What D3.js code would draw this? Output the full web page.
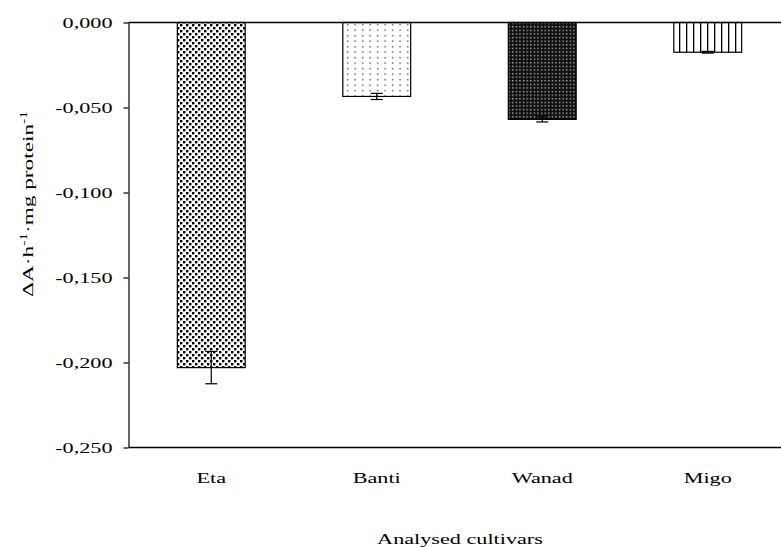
<!DOCTYPE html>
<html><head><meta charset="utf-8">
<script src="https://cdn.jsdelivr.net/npm/d3@7"></script>
<style>body{margin:0;background:#fff}svg{display:block}</style>
</head><body>
<svg id="c" width="781" height="547"></svg>
<script>
const categories = ["Eta", "Banti", "Wanad", "Migo"];
const values = [-0.203, -0.0435, -0.057, -0.0175];
const errors = [0.0095, 0.0018, 0.0015, 0.0005];
const yTicks = [0, -0.05, -0.1, -0.15, -0.2, -0.25];
const patternIds = ["pEta", "pBanti", "pWanad", "pMigo"];
const xTitle = "Analysed cultivars";

const svg = d3.select("#c");
const mLeft = 128.5, mRight = 790.5, mTop = 22.5, mBottom = 447.5;
const SX = 1.48, FS = 15;
const x = d3.scaleBand().domain(categories).range([mLeft, mRight]).paddingInner(0.59).paddingOuter(0.295);
const y = d3.scaleLinear().domain([-0.25, 0]).range([mBottom, mTop]);
const fmt = v => d3.format(".3f")(v).replace(".", ",").replace("−", "-");

const defs = svg.append("defs");
let p = defs.append("pattern").attr("id", "pEta").attr("patternUnits", "userSpaceOnUse").attr("width", 6).attr("height", 6);
p.append("rect").attr("width", 6).attr("height", 6).attr("fill", "#fff");
p.append("rect").attr("x", 0).attr("y", 0).attr("width", 2.4).attr("height", 2.4).attr("fill", "#000");
p.append("rect").attr("x", 3).attr("y", 3).attr("width", 2.4).attr("height", 2.4).attr("fill", "#000");
p = defs.append("pattern").attr("id", "pBanti").attr("patternUnits", "userSpaceOnUse").attr("width", 7.5).attr("height", 5.5);
p.append("rect").attr("width", 7.5).attr("height", 5.5).attr("fill", "#fff");
p.append("rect").attr("x", 2).attr("y", 2).attr("width", 1.3).attr("height", 1.3).attr("fill", "#333");
p = defs.append("pattern").attr("id", "pWanad").attr("patternUnits", "userSpaceOnUse").attr("width", 3.6).attr("height", 3.6);
p.append("rect").attr("width", 3.6).attr("height", 3.6).attr("fill", "#111");
p.append("rect").attr("x", 1).attr("y", 1).attr("width", 1.2).attr("height", 1.2).attr("fill", "#ddd");
p = defs.append("pattern").attr("id", "pMigo").attr("patternUnits", "userSpaceOnUse").attr("width", 7).attr("height", 7);
p.append("rect").attr("width", 7).attr("height", 7).attr("fill", "#fff");
p.append("rect").attr("x", 0).attr("y", 0).attr("width", 1.3).attr("height", 7).attr("fill", "#000");

svg.selectAll("rect.bar").data(categories).join("rect").attr("class", "bar")
  .attr("x", d => x(d)).attr("width", x.bandwidth())
  .attr("y", y(0)).attr("height", (d, i) => y(values[i]) - y(0))
  .attr("fill", (d, i) => `url(#${patternIds[i]})`)
  .attr("stroke", "#000").attr("stroke-width", 1.2);

const eb = svg.selectAll("g.eb").data(categories).join("g").attr("class", "eb")
  .attr("stroke", "#000").attr("stroke-width", 1.2);
eb.append("line").attr("x1", d => x(d) + x.bandwidth() / 2).attr("x2", d => x(d) + x.bandwidth() / 2)
  .attr("y1", (d, i) => y(values[i] + errors[i])).attr("y2", (d, i) => y(values[i] - errors[i]));
[1, -1].forEach(s => {
  eb.append("line").attr("x1", d => x(d) + x.bandwidth() / 2 - 6).attr("x2", d => x(d) + x.bandwidth() / 2 + 6)
    .attr("y1", (d, i) => y(values[i] + s * errors[i])).attr("y2", (d, i) => y(values[i] + s * errors[i]));
});

const yAxis = svg.append("g").attr("transform", `translate(${mLeft},0)`)
  .call(d3.axisLeft(y).tickValues(yTicks).tickSize(5).tickSizeOuter(0).tickFormat(fmt));
yAxis.select(".domain").attr("stroke", "#000").attr("stroke-width", 1.2);
yAxis.selectAll(".tick line").attr("stroke", "#000").attr("stroke-width", 1.2);
yAxis.selectAll(".tick text").attr("font-family", "Liberation Serif").attr("font-size", FS)
  .attr("fill", "#000").attr("dy", "0.35em")
  .attr("transform", `scale(${SX},1)`).attr("text-anchor", "end")
  .attr("x", -16 / SX);

svg.append("line").attr("x1", mLeft).attr("x2", 781).attr("y1", y(0)).attr("y2", y(0)).attr("stroke", "#000").attr("stroke-width", 1.5);
svg.append("line").attr("x1", mLeft).attr("x2", 781).attr("y1", y(-0.25)).attr("y2", y(-0.25)).attr("stroke", "#000").attr("stroke-width", 1.5);

const xAxis = svg.append("g").attr("transform", `translate(0,${mBottom})`)
  .call(d3.axisBottom(x).tickSize(0));
xAxis.select(".domain").remove();
xAxis.selectAll(".tick text").attr("font-family", "Liberation Serif").attr("font-size", FS).attr("fill", "#000")
  .attr("y", 0).attr("dy", 0)
  .attr("transform", `translate(0,35.5) scale(${SX},1)`);

svg.append("text").attr("transform", `translate(460,544) scale(${SX},1)`).attr("text-anchor", "middle")
  .attr("font-family", "Liberation Serif").attr("font-size", FS).attr("fill", "#000").text(xTitle);

const yt = svg.append("text").attr("transform", "translate(33,204) rotate(-90) scale(1.55,1)").attr("text-anchor", "middle")
  .attr("font-family", "Liberation Serif").attr("font-size", 15).attr("fill", "#000");
yt.append("tspan").text("ΔA·h");
yt.append("tspan").attr("font-size", 10).attr("dy", -6).text("-1");
yt.append("tspan").attr("dy", 6).text("·mg protein");
yt.append("tspan").attr("font-size", 10).attr("dy", -6).text("-1");
</script>
</body></html>
